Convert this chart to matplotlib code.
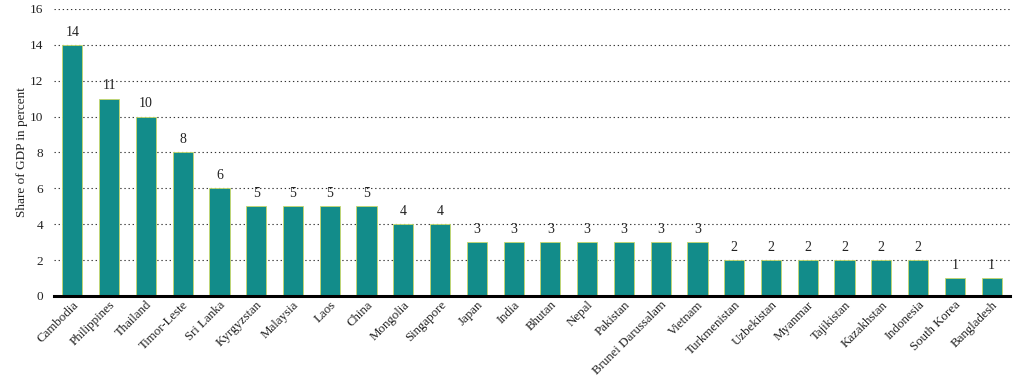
import matplotlib
matplotlib.use("Agg")
import matplotlib.pyplot as plt

countries = ["Cambodia", "Philippines", "Thailand", "Timor-Leste", "Sri Lanka", "Kyrgyzstan",
             "Malaysia", "Laos", "China", "Mongolia", "Singapore", "Japan", "India", "Bhutan",
             "Nepal", "Pakistan", "Brunei Darussalam", "Vietnam", "Turkmenistan", "Uzbekistan",
             "Myanmar", "Tajikistan", "Kazakhstan", "Indonesia", "South Korea", "Bangladesh"]
values = [14, 11, 10, 8, 6, 5, 5, 5, 5, 4, 4, 3, 3, 3, 3, 3, 3, 3, 2, 2, 2, 2, 2, 2, 1, 1]
yticks = [0, 2, 4, 6, 8, 10, 12, 14, 16]

plt.rcParams['font.family'] = ['Liberation Serif', 'DejaVu Serif']

fig = plt.figure(figsize=(10.23, 3.78), dpi=100)
ax = fig.add_axes([54/1023, 1-296/378, (1010-54)/1023, (296-9)/378])

x = list(range(len(countries)))
bars = ax.bar(x, values, width=0.55, color="#128C8A", edgecolor="#C8D86A", linewidth=0.6, zorder=3)
for xi, v in zip(x, values):
    ax.text(xi, v + 0.35, str(v), ha="center", va="bottom", fontsize=10, color="#222222")

ax.set_xlim(-0.5, len(countries) - 0.5)
ax.set_ylim(0, 16)
ax.set_yticks(yticks)
ax.set_yticklabels([str(t) for t in yticks], fontsize=9.5, color="#222222")
ax.yaxis.grid(True, linestyle=(0, (1.2, 2.5)), color="#333333", linewidth=0.8, zorder=0)
ax.set_axisbelow(True)
ax.set_xticks(x)
ax.set_xticklabels(countries, rotation=45, ha="right", rotation_mode="anchor", fontsize=9.3, color="#222222")
ax.tick_params(axis="x", length=0, pad=2)
ax.tick_params(axis="y", length=0, pad=8)
ax.set_ylabel("Share of GDP in percent", fontsize=9.5, color="#222222")
ax.yaxis.set_label_coords(-0.027, 0.5)
for s in ["left", "right", "top"]:
    ax.spines[s].set_visible(False)
ax.spines["bottom"].set_linewidth(2.2)
ax.spines["bottom"].set_color("black")
ax.spines["bottom"].set_zorder(4)

fig.savefig("out.png", dpi=100)
